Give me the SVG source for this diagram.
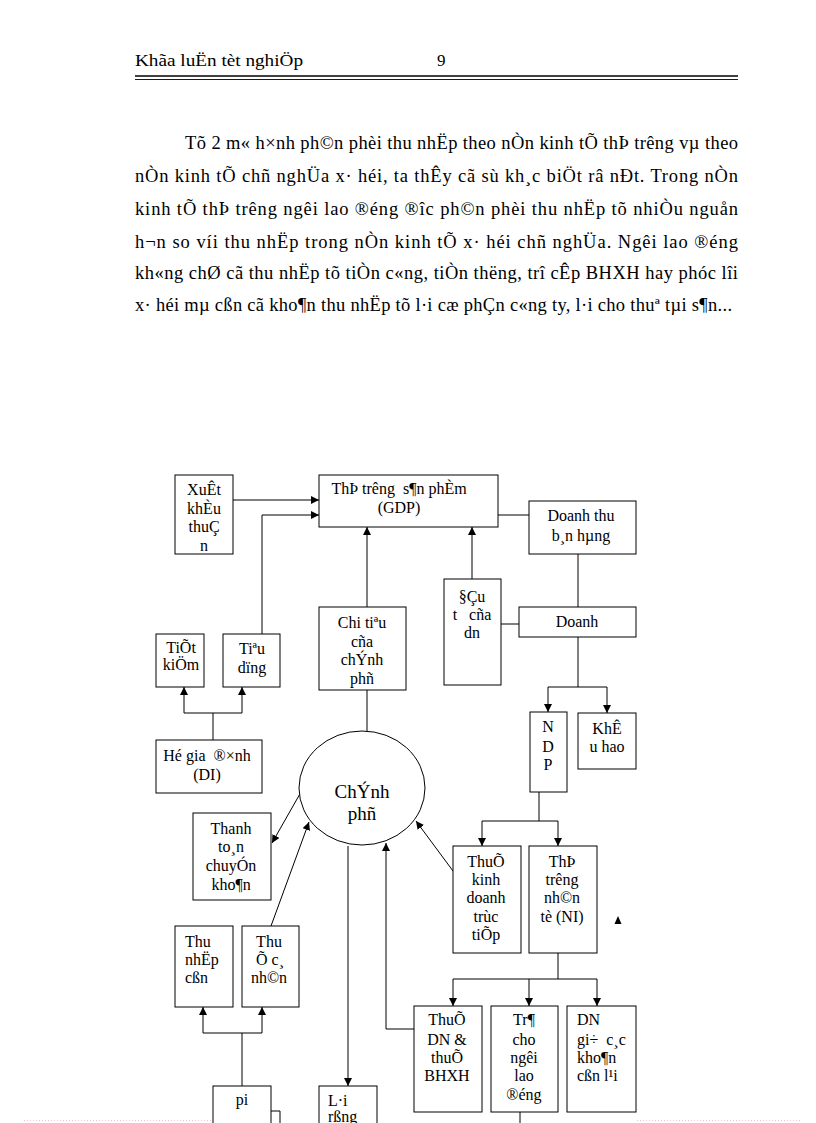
<svg xmlns="http://www.w3.org/2000/svg" width="816" height="1123" viewBox="0 0 816 1123">
<style>
  text { font-family: "Liberation Serif", "Times New Roman", serif; fill: #000; }
  .hdr { font-size: 17px; }
  .para { font-size: 18.5px; }
  .lbl { font-size: 16px; text-anchor: middle; }
  .lbll { font-size: 16px; text-anchor: start; }
  .big { font-size: 19px; text-anchor: middle; }
  .box { fill: #fff; stroke: #000; stroke-width: 1; }
  .ln { fill: none; stroke: #000; stroke-width: 1; }
  .arr { fill: none; stroke: #000; stroke-width: 1; marker-end: url(#ah); }
</style>
<defs>
  <marker id="ah" viewBox="0 0 8 8" refX="8" refY="4" markerWidth="8" markerHeight="8" markerUnits="userSpaceOnUse" orient="auto">
    <path d="M0,0 L8,4 L0,8 z" fill="#000"/>
  </marker>
</defs>
<rect x="0" y="0" width="816" height="1123" fill="#fff"/>

<g id="header">
  <text class="hdr" x="135" y="66" textLength="168" lengthAdjust="spacingAndGlyphs">Khãa luËn tèt nghiÖp</text>
  <text class="hdr" x="437" y="66">9</text>
  <line x1="135" y1="76" x2="738" y2="76" stroke="#000" stroke-width="1.6"/>
  <line x1="135" y1="79.5" x2="738" y2="79.5" stroke="#000" stroke-width="0.9"/>
</g>

<g id="paragraph">
  <text class="para" x="185" y="149" textLength="553" lengthAdjust="spacing">Tõ 2 m« h×nh ph©n phèi thu nhËp theo nÒn kinh tÕ thÞ trêng  vµ theo</text>
  <text class="para" x="135" y="182" textLength="603" lengthAdjust="spacing">nÒn kinh  tÕ  chñ nghÜa  x· héi,  ta thÊy cã sù kh¸c biÖt râ nÐt. Trong nÒn</text>
  <text class="para" x="135" y="215" textLength="603" lengthAdjust="spacing">kinh  tÕ thÞ trêng  ngêi  lao ®éng ®îc  ph©n phèi thu nhËp tõ nhiÒu nguån</text>
  <text class="para" x="135" y="248" textLength="603" lengthAdjust="spacing">h¬n so víi thu nhËp trong nÒn kinh tÕ x· héi chñ nghÜa. Ngêi  lao ®éng</text>
  <text class="para" x="135" y="279" textLength="603" lengthAdjust="spacing">kh«ng chØ cã thu nhËp tõ tiÒn c«ng, tiÒn thëng,  trî cÊp BHXH hay phóc lîi</text>
  <text class="para" x="135" y="311" textLength="597" lengthAdjust="spacing">x· héi mµ cßn cã kho¶n thu nhËp tõ l·i cæ phÇn c«ng ty, l·i cho thuª tµi s¶n...</text>
</g>

<g id="connectors">
  <path class="arr" d="M233,500 H319"/>
  <path class="arr" d="M262,634 V515 H319"/>
  <path class="arr" d="M367,607 V527"/>
  <path class="arr" d="M472,579 V527"/>
  <path class="ln" d="M498,515 H529"/>
  <path class="ln" d="M578,554 V607"/>
  <path class="ln" d="M501,624 H519"/>
  <path class="ln" d="M578,637 V687 M548,687 H607"/>
  <path class="arr" d="M548,687 V712"/>
  <path class="arr" d="M607,687 V713"/>
  <path class="ln" d="M213,740 V713 M184,713 H242"/>
  <path class="arr" d="M184,713 V687"/>
  <path class="arr" d="M242,713 V687"/>
  <path class="ln" d="M367,690 V731"/>
  <path class="arr" d="M301,792 L272,843"/>
  <path class="arr" d="M271,926 L309,822"/>
  <path class="arr" d="M348,846 V1086"/>
  <path class="arr" d="M414,1029 H386 V843"/>
  <path class="arr" d="M453,871 L416,821"/>
  <path class="ln" d="M539,792 V821 M482,821 H558"/>
  <path class="arr" d="M482,821 V846"/>
  <path class="arr" d="M558,821 V846"/>
  <path class="ln" d="M558,953 V979 M453,979 H597"/>
  <path class="arr" d="M453,979 V1006"/>
  <path class="arr" d="M529,979 V1006"/>
  <path class="arr" d="M597,979 V1006"/>
  <path class="ln" d="M520,1112 V1123"/>
  <path class="ln" d="M242,1086 V1033 M203,1033 H262"/>
  <path class="arr" d="M203,1033 V1007"/>
  <path class="arr" d="M262,1033 V1007"/>
  <polygon points="614.5,924 621.5,924 618,916" fill="#000"/>
</g>

<g id="n-xuatkhau">
  <rect class="box" x="175" y="475" width="58" height="79"/>
  <text class="lbl" x="204" y="495">XuÊt</text>
  <text class="lbl" x="204" y="514">khÈu</text>
  <text class="lbl" x="204" y="532">thuÇ</text>
  <text class="lbl" x="204" y="551">n</text>
</g>
<g id="n-gdp">
  <rect class="box" x="319" y="475" width="179" height="52"/>
  <text class="lbl" x="399" y="494" xml:space="preserve">ThÞ trêng  s¶n phÈm</text>
  <text class="lbl" x="399" y="513">(GDP)</text>
</g>
<g id="n-doanhthu">
  <rect class="box" x="529" y="501" width="107" height="53"/>
  <text class="lbl" x="581" y="521">Doanh thu</text>
  <text class="lbl" x="581" y="541">b¸n hµng</text>
</g>
<g id="n-dautu">
  <rect class="box" x="444" y="579" width="57" height="106"/>
  <text class="lbl" x="472" y="602">§Çu</text>
  <text class="lbl" x="472" y="620" xml:space="preserve">t   cña</text>
  <text class="lbl" x="472" y="638">dn</text>
</g>
<g id="n-doanh">
  <rect class="box" x="519" y="607" width="117" height="30"/>
  <text class="lbl" x="577" y="627">Doanh</text>
</g>
<g id="n-chitieu">
  <rect class="box" x="319" y="607" width="87" height="83"/>
  <text class="lbl" x="362" y="628">Chi tiªu</text>
  <text class="lbl" x="362" y="647">cña</text>
  <text class="lbl" x="362" y="665">chÝnh</text>
  <text class="lbl" x="362" y="684">phñ</text>
</g>
<g id="n-tietkiem">
  <rect class="box" x="156" y="634" width="48" height="53"/>
  <text class="lbl" x="181" y="653">TiÕt</text>
  <text class="lbl" x="181" y="670">kiÖm</text>
</g>
<g id="n-tieudung">
  <rect class="box" x="223" y="634" width="57" height="53"/>
  <text class="lbl" x="252" y="654">Tiªu</text>
  <text class="lbl" x="252" y="673">dïng</text>
</g>
<g id="n-hogiadinh">
  <rect class="box" x="156" y="740" width="106" height="53"/>
  <text class="lbl" x="207" y="761" xml:space="preserve">Hé gia  ®×nh</text>
  <text class="lbl" x="207" y="780">(DI)</text>
</g>
<g id="n-ndp">
  <rect class="box" x="530" y="712" width="37" height="80"/>
  <text class="lbl" x="548" y="732">N</text>
  <text class="lbl" x="548" y="752">D</text>
  <text class="lbl" x="548" y="770">P</text>
</g>
<g id="n-khauhao">
  <rect class="box" x="578" y="713" width="58" height="56"/>
  <text class="lbl" x="607" y="734">KhÊ</text>
  <text class="lbl" x="607" y="752">u hao</text>
</g>
<g id="n-chinhphu">
  <ellipse class="box" cx="362" cy="788" rx="63" ry="57"/>
  <text class="big" x="362" y="798">ChÝnh</text>
  <text class="big" x="362" y="820">phñ</text>
</g>
<g id="n-thanhtoan">
  <rect class="box" x="193" y="813" width="78" height="87"/>
  <text class="lbl" x="231" y="834">Thanh</text>
  <text class="lbl" x="231" y="852">to¸n</text>
  <text class="lbl" x="231" y="871">chuyÓn</text>
  <text class="lbl" x="231" y="890">kho¶n</text>
</g>
<g id="n-thuekd">
  <rect class="box" x="453" y="846" width="68" height="107"/>
  <text class="lbl" x="486" y="867">ThuÕ</text>
  <text class="lbl" x="486" y="885">kinh</text>
  <text class="lbl" x="486" y="903">doanh</text>
  <text class="lbl" x="486" y="922">trùc</text>
  <text class="lbl" x="486" y="940">tiÕp</text>
</g>
<g id="n-ni">
  <rect class="box" x="529" y="846" width="68" height="107"/>
  <text class="lbl" x="562" y="867">ThÞ</text>
  <text class="lbl" x="562" y="885">trêng</text>
  <text class="lbl" x="562" y="903">nh©n</text>
  <text class="lbl" x="562" y="922">tè (NI)</text>
</g>
<g id="n-thunhapcon">
  <rect class="box" x="175" y="926" width="58" height="81"/>
  <text class="lbll" x="185" y="947">Thu</text>
  <text class="lbll" x="185" y="965">nhËp</text>
  <text class="lbll" x="185" y="983">cßn</text>
</g>
<g id="n-thuecanhan">
  <rect class="box" x="242" y="926" width="57" height="81"/>
  <text class="lbl" x="269" y="947">Thu</text>
  <text class="lbl" x="270" y="965">Õ c¸</text>
  <text class="lbl" x="269" y="983">nh©n</text>
</g>
<g id="n-thuedn">
  <rect class="box" x="414" y="1006" width="68" height="106"/>
  <text class="lbl" x="447" y="1025">ThuÕ</text>
  <text class="lbl" x="447" y="1045">DN &amp;</text>
  <text class="lbl" x="447" y="1063">thuÕ</text>
  <text class="lbl" x="447" y="1081">BHXH</text>
</g>
<g id="n-tra">
  <rect class="box" x="491" y="1006" width="67" height="106"/>
  <text class="lbl" x="524" y="1025">Tr¶</text>
  <text class="lbl" x="524" y="1045">cho</text>
  <text class="lbl" x="524" y="1063">ngêi</text>
  <text class="lbl" x="524" y="1081">lao</text>
  <text class="lbl" x="524" y="1100">®éng</text>
</g>
<g id="n-dngiu">
  <rect class="box" x="567" y="1006" width="69" height="106"/>
  <text class="lbll" x="577" y="1025">DN</text>
  <text class="lbll" x="577" y="1045" xml:space="preserve">gi÷  c¸c</text>
  <text class="lbll" x="577" y="1063">kho¶n</text>
  <text class="lbll" x="577" y="1081">cßn l¹i</text>
</g>
<g id="n-pi">
  <path class="ln" d="M271,1111 H280 V1130"/>
  <rect class="box" x="213" y="1086" width="58" height="50"/>
  <text class="lbl" x="242" y="1105">pi</text>
</g>
<g id="n-lai">
  <rect class="box" x="319" y="1086" width="58" height="50"/>
  <text class="lbll" x="328" y="1106">L·i</text>
  <text class="lbll" x="328" y="1122">rßng</text>
</g>
<g id="page-edge">
  <line x1="24" y1="1120.5" x2="212" y2="1120.5" stroke="#f2bfd2" stroke-width="1" stroke-dasharray="1 2"/>
  <line x1="637" y1="1120.5" x2="800" y2="1120.5" stroke="#f2bfd2" stroke-width="1" stroke-dasharray="1 2"/>
</g>
</svg>
